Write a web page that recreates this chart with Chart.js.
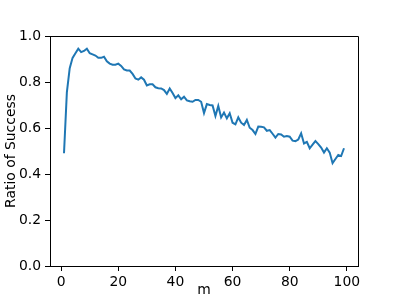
<!DOCTYPE html>
<html>
<head>
<meta charset="utf-8">
<script src="https://cdn.jsdelivr.net/npm/chart.js@4/dist/chart.umd.min.js"></script>
<style>
  html, body { margin: 0; padding: 0; background: #fff; }
  #wrap { width: 399px; height: 299px; }
</style>
</head>
<body>
<div id="wrap"><canvas id="chart" width="399" height="299"></canvas></div>
<script>
// m values 1..99
const mValues = [];
for (let i = 1; i <= 99; i++) mValues.push(i);

const successRatio = [
  0.49, 0.755, 0.86, 0.905, 0.925, 0.945, 0.93, 0.935, 0.945, 0.925,
  0.92, 0.915, 0.905, 0.905, 0.91, 0.89, 0.88, 0.875, 0.875, 0.88,
  0.87, 0.855, 0.85, 0.85, 0.835, 0.815, 0.81, 0.82, 0.81, 0.785,
  0.79, 0.79, 0.777, 0.773, 0.772, 0.765, 0.748, 0.772, 0.752, 0.73,
  0.742, 0.725, 0.736, 0.72, 0.716, 0.714, 0.722, 0.722, 0.714, 0.665,
  0.704, 0.70, 0.698, 0.652, 0.696, 0.646, 0.667, 0.642, 0.664, 0.623,
  0.616, 0.646, 0.623, 0.613, 0.635, 0.601, 0.591, 0.574, 0.606, 0.605,
  0.603, 0.588, 0.591, 0.575, 0.558, 0.574, 0.572, 0.562, 0.565, 0.562,
  0.545, 0.543, 0.55, 0.577, 0.533, 0.54, 0.512, 0.528, 0.543, 0.53,
  0.515, 0.493, 0.512, 0.493, 0.447, 0.465, 0.483, 0.478, 0.512
];

const xTicks = [0, 20, 40, 60, 80, 100];
const yTicks = [0.0, 0.2, 0.4, 0.6, 0.8, 1.0];

const font = { family: "DejaVu Sans", size: 13.9 };

// top and right spines
const frame = {
  id: "frame",
  afterDraw(chart) {
    const { ctx, chartArea: a } = chart;
    ctx.save();
    ctx.strokeStyle = "#000";
    ctx.lineWidth = 1;
    ctx.beginPath();
    ctx.moveTo(a.left, a.top + 0.5);
    ctx.lineTo(a.right + 0.5, a.top + 0.5);
    ctx.lineTo(a.right + 0.5, a.bottom);
    ctx.stroke();
    ctx.restore();
  }
};

new Chart(document.getElementById("chart"), {
  type: "line",
  data: {
    datasets: [
      {
        data: mValues.map((m, i) => ({ x: m, y: successRatio[i] })),
        borderColor: "#1f77b4",
        borderWidth: 2,
        pointRadius: 0,
        tension: 0,
        fill: false,
      },
    ],
  },
  options: {
    responsive: false,
    animation: false,
    layout: { padding: { left: 0, right: 41, top: 36, bottom: 0 } },
    plugins: { legend: { display: false }, tooltip: { enabled: false } },
    scales: {
      x: {
        type: "linear",
        min: -3.9,
        max: 103.9,
        afterBuildTicks: (s) => { s.ticks = xTicks.map((v) => ({ value: v })); },
        afterFit: (s) => { s.height = 33; },
        grid: { display: true, drawOnChartArea: false, drawTicks: true, tickLength: 5, color: "#000" },
        border: { display: true, color: "#000", width: 1 },
        ticks: { color: "#000", font: font, padding: 3, maxRotation: 0 },
        title: { display: true, text: "m", color: "#000", font: font, padding: { top: 3, bottom: 0 } },
      },
      y: {
        min: 0,
        max: 1,
        afterBuildTicks: (s) => { s.ticks = yTicks.map((v) => ({ value: v })); },
        afterFit: (s) => { s.width = 50; },
        grid: { display: true, drawOnChartArea: false, drawTicks: true, tickLength: 5, color: "#000" },
        border: { display: true, color: "#000", width: 1 },
        ticks: { color: "#000", font: font, padding: 4, callback: (v) => v.toFixed(1) },
        title: { display: true, text: "Ratio of Success", color: "#000", font: font, padding: { top: 3, bottom: 0 } },
      },
    },
  },
  plugins: [frame],
});
</script>
</body>
</html>
